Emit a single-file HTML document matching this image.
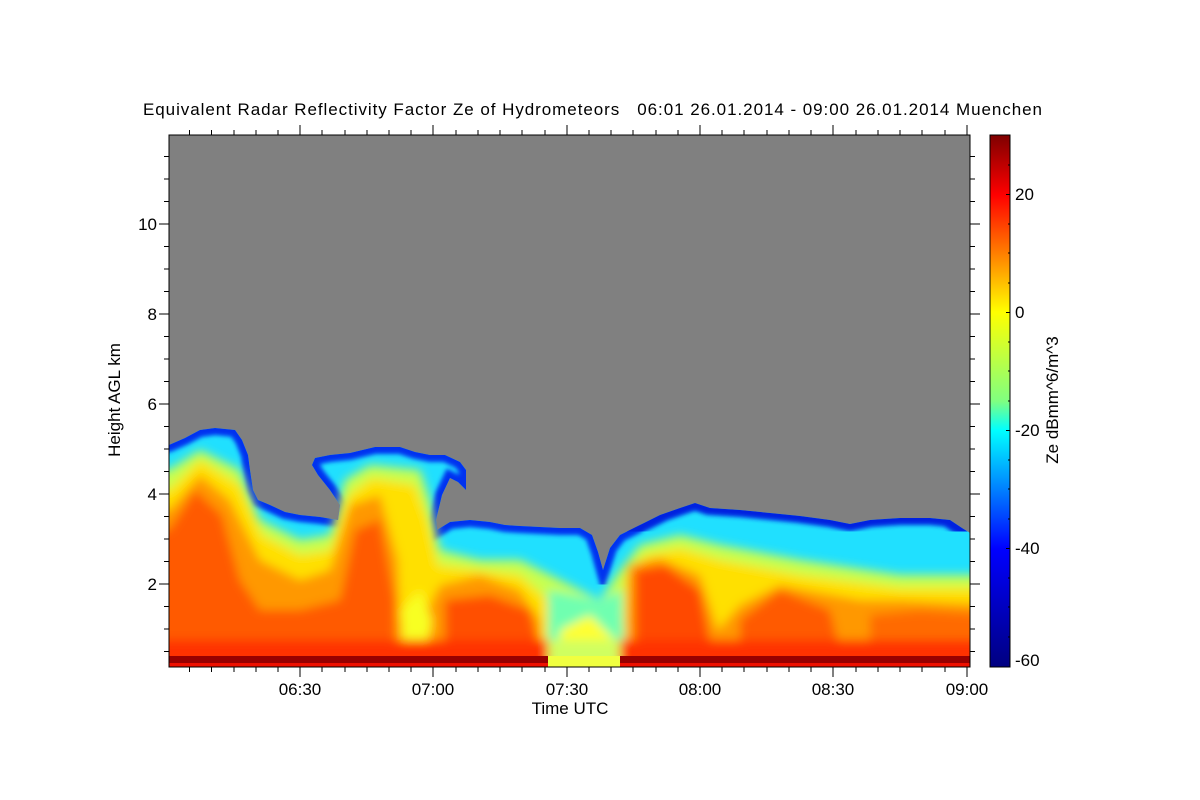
<!DOCTYPE html>
<html><head><meta charset="utf-8"><style>
html,body{margin:0;padding:0;background:#fff;}
svg{display:block;font-family:"Liberation Sans",sans-serif;}
</style></head><body>
<svg width="1200" height="800" viewBox="0 0 1200 800" xmlns="http://www.w3.org/2000/svg">
<defs>
<linearGradient id="cb" x1="0" y1="0" x2="0" y2="1">
<stop offset="0" stop-color="#7f0000"/>
<stop offset="0.113" stop-color="#ff0000"/>
<stop offset="0.333" stop-color="#ffff00"/>
<stop offset="0.5" stop-color="#80ff80"/>
<stop offset="0.555" stop-color="#00ffff"/>
<stop offset="0.778" stop-color="#0000ff"/>
<stop offset="1" stop-color="#000080"/>
</linearGradient>
<clipPath id="cloud"><polygon points="169,445 185,438 200,430 215,428 235,430 242,440 248,455 250,470 253,490 258,500 270,505 285,512 300,515 320,517 338,520 340,505 330,490 318,475 312,465 315,458 330,455 350,453 375,447 400,447 415,452 430,455 445,455 460,462 466,470 466,490 458,482 450,478 442,495 436,520 437,530 450,522 470,520 490,522 505,525 520,526 540,527 560,528 580,528 592,535 598,552 603,570 610,548 620,535 640,525 660,515 680,508 695,503 710,508 740,510 770,513 800,516 830,520 850,524 870,520 900,518 930,518 950,520 962,528 970,533 970,667 169,667"/></clipPath>
<filter id="bl" x="-5%" y="-5%" width="110%" height="110%"><feGaussianBlur stdDeviation="5"/></filter>
<filter id="bl2"><feGaussianBlur stdDeviation="2"/></filter>
</defs>
<rect x="169" y="135" width="801" height="532" fill="#808080"/>
<g clip-path="url(#cloud)">
<rect x="169" y="420" width="801" height="250" fill="#20e0ff"/>
<polyline filter="url(#bl2)" fill="none" stroke="#0030f0" stroke-width="14" points="150,447 169,445 185,438 200,430 215,428 235,430 242,440 248,455 250,470 253,490 258,500 270,505 285,512 300,515 320,517 338,520 340,505 330,490 318,475 312,465 315,458 330,455 350,453 375,447 400,447 415,452 430,455 445,455 460,462 466,470 466,490 458,482 450,478 442,495 436,520 437,530 450,522 470,520 490,522 505,525 520,526 540,527 560,528 580,528 592,535 598,552 603,570 610,548 620,535 640,525"/>
<polyline filter="url(#bl2)" fill="none" stroke="#0020e0" stroke-width="34" points="620,525 640,515 660,505 680,498 695,493 710,498 740,500 770,503 800,506 830,510 850,514 870,510 900,508 930,508 950,510 962,518 990,528"/>
<g filter="url(#bl)">
<polygon fill="#c8ff50" points="140,470 169,470 200,450 240,470 260,520 300,540 330,535 345,480 370,465 420,470 430,500 440,550 480,560 520,560 560,580 600,600 620,570 640,545 680,535 720,545 800,560 900,575 1000,575 1000,700 140,700"/>
<polygon fill="#ffe000" points="140,490 169,490 200,460 240,485 262,535 300,555 330,550 348,495 372,478 415,485 428,520 438,565 480,570 520,575 548,600 545,700 620,700 625,575 645,555 680,548 720,560 800,575 900,588 1000,588 1000,700 140,700"/>
<polygon fill="#ff9800" points="140,510 169,510 200,475 230,500 260,560 300,580 330,570 350,505 380,495 398,560 400,620 412,640 440,585 480,575 520,590 540,620 545,700 625,700 628,565 660,558 700,575 718,630 740,605 780,585 860,600 900,600 1000,605 1000,700 140,700"/>
<polygon fill="#ff5a00" points="140,530 169,530 195,490 222,515 240,580 260,610 300,610 340,600 355,530 380,520 395,600 395,640 140,650"/>
<polygon fill="#ff5000" points="445,600 490,595 530,610 540,650 445,650"/>
<polygon fill="#ff4a00" points="635,570 665,565 700,590 710,640 635,650"/>
<polygon fill="#ff5a00" points="740,620 780,590 830,610 840,650 740,650"/>
<polygon fill="#ff6a00" points="870,615 920,610 1000,615 1000,650 870,650"/>
<polygon fill="#70ffb0" points="548,590 600,600 622,590 625,660 548,660"/>
<polygon fill="#ffff30" points="560,630 590,615 615,640 610,665 560,665"/>
<polygon fill="#f8ff20" points="402,610 420,590 432,620 425,660 402,660"/>
<rect x="140" y="640" width="860" height="40" fill="#ff3000"/>
<rect x="548" y="640" width="72" height="40" fill="#d0ff60"/>
</g>
<rect x="169" y="656" width="801" height="7" fill="#980000"/>
<rect x="169" y="663" width="801" height="4" fill="#ee1000"/>
<rect x="548" y="656" width="72" height="11" fill="#f0ff40"/>
</g>
<rect x="169" y="135" width="801" height="532" fill="none" stroke="#000" stroke-width="1"/>
<g stroke="#000" stroke-width="1">
<path d="M300,667v10M433,667v10M567,667v10M700,667v10M833,667v10M967,667v10M300,135v-10M433,135v-10M567,135v-10M700,135v-10M833,135v-10M967,135v-10"/>
<path d="M189.5,667v5M211.5,667v5M234,667v5M256,667v5M278,667v5M322,667v5M345,667v5M367,667v5M389,667v5M411,667v5M456,667v5M478,667v5M500,667v5M522,667v5M545,667v5M589,667v5M611,667v5M633,667v5M656,667v5M678,667v5M722,667v5M744,667v5M767,667v5M789,667v5M811,667v5M856,667v5M878,667v5M900,667v5M922,667v5M945,667v5
M189.5,135v-5M211.5,135v-5M234,135v-5M256,135v-5M278,135v-5M322,135v-5M345,135v-5M367,135v-5M389,135v-5M411,135v-5M456,135v-5M478,135v-5M500,135v-5M522,135v-5M545,135v-5M589,135v-5M611,135v-5M633,135v-5M656,135v-5M678,135v-5M722,135v-5M744,135v-5M767,135v-5M789,135v-5M811,135v-5M856,135v-5M878,135v-5M900,135v-5M922,135v-5M945,135v-5"/>
<path d="M169,584h-10M169,494h-10M169,404h-10M169,314h-10M169,224h-10M970,584h10M970,494h10M970,404h10M970,314h10M970,224h10"/>
<path d="M169,651.5h-5M169,629h-5M169,606.5h-5M169,561.5h-5M169,539h-5M169,516.5h-5M169,471.5h-5M169,449h-5M169,426.5h-5M169,381.5h-5M169,359h-5M169,336.5h-5M169,291.5h-5M169,269h-5M169,246.5h-5M169,201.5h-5M169,179h-5M169,156.5h-5
M970,651.5h5M970,629h5M970,606.5h5M970,561.5h5M970,539h5M970,516.5h5M970,471.5h5M970,449h5M970,426.5h5M970,381.5h5M970,359h5M970,336.5h5M970,291.5h5M970,269h5M970,246.5h5M970,201.5h5M970,179h5M970,156.5h5"/>
</g>
<g font-size="17" fill="#000" text-anchor="middle">
<text x="300" y="695">06:30</text><text x="433" y="695">07:00</text><text x="567" y="695">07:30</text><text x="700" y="695">08:00</text><text x="833" y="695">08:30</text><text x="967" y="695">09:00</text>
<text x="570" y="714">Time UTC</text>
</g>
<g font-size="17" fill="#000" text-anchor="end">
<text x="157" y="590">2</text><text x="157" y="500">4</text><text x="157" y="410">6</text><text x="157" y="320">8</text><text x="157" y="230">10</text>
</g>
<text transform="translate(120,400) rotate(-90)" font-size="17" text-anchor="middle">Height AGL km</text>
<text x="143" y="115" font-size="17" textLength="899" lengthAdjust="spacing" xml:space="preserve">Equivalent Radar Reflectivity Factor Ze of Hydrometeors   06:01 26.01.2014 - 09:00 26.01.2014 Muenchen</text>
<rect x="990" y="135" width="20" height="532" fill="url(#cb)" stroke="#000" stroke-width="1"/>
<g stroke="#000"><path d="M1010,194.5h-4M1010,312.5h-4M1010,430.5h-4M1010,548.5h-4M1010,165h-2M1010,224h-2M1010,253h-2M1010,283h-2M1010,342h-2M1010,371h-2M1010,401h-2M1010,460h-2M1010,489h-2M1010,519h-2M1010,578h-2M1010,607h-2M1010,637h-2"/></g>
<g font-size="17" fill="#000">
<text x="1015" y="200">20</text><text x="1015" y="318">0</text><text x="1015" y="436">-20</text><text x="1015" y="554">-40</text><text x="1015" y="666">-60</text>
</g>
<text transform="translate(1058,400) rotate(-90)" font-size="17" text-anchor="middle">Ze dBmm^6/m^3</text>
</svg>
</body></html>
